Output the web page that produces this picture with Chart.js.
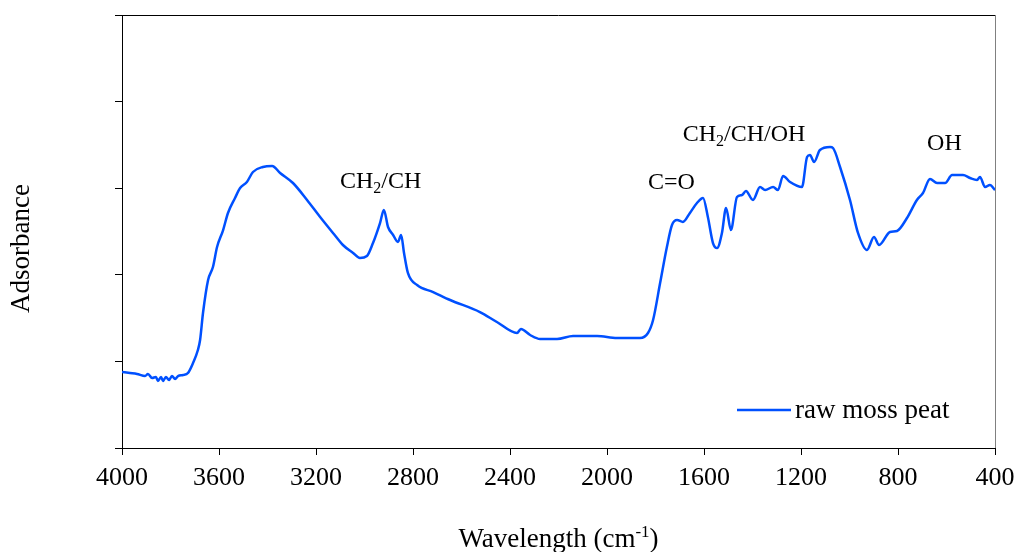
<!DOCTYPE html>
<html>
<head>
<meta charset="utf-8">
<script src="https://cdn.jsdelivr.net/npm/chart.js@4/dist/chart.umd.min.js"></script>
<style>
  html, body { margin: 0; padding: 0; background: #fff; }
  #wrap { width: 1015px; height: 552px; position: relative; }
</style>
</head>
<body>
<div id="wrap"><canvas id="c"></canvas></div>
<script>
// ---- data ----
const wavenumbers = [
  4000, 3967, 3938, 3905, 3893, 3876, 3860, 3852, 3839, 3831, 3819, 3806, 3794, 3781, 3769, 3748, 3728,
  3707, 3687, 3678, 3666, 3645, 3625, 3608, 3583, 3563, 3534, 3513, 3485, 3460, 3419, 3381, 3348,
  3295, 3237, 3183, 3130, 3089, 3047, 3019, 2990, 2965, 2936, 2920, 2903, 2882, 2862, 2849, 2837,
  2821, 2783, 2717, 2647, 2524, 2454, 2371, 2355, 2317, 2276, 2206, 2140, 2041, 1959, 1864, 1831,
  1810, 1781, 1753, 1732, 1711, 1687, 1658, 1629, 1604, 1584, 1563, 1546, 1526, 1509, 1489, 1464,
  1443, 1427, 1398, 1369, 1348, 1315, 1295, 1274, 1245, 1196, 1175, 1163, 1146, 1122, 1080, 1068,
  1039, 998, 965, 928, 899, 878, 833, 804, 763, 722, 697, 668, 639, 606, 577, 532, 503, 474, 462,
  441, 421, 400
];
const absorbance = [
  0.878, 0.866, 0.855, 0.831, 0.855, 0.808, 0.820, 0.774, 0.820, 0.774, 0.820, 0.785, 0.831, 0.797, 0.831, 0.843, 0.866,
  0.982, 1.132, 1.247, 1.559, 1.940, 2.090, 2.321, 2.517, 2.714, 2.887, 3.002, 3.072, 3.187, 3.245, 3.256, 3.176,
  3.060, 2.864, 2.667, 2.483, 2.344, 2.252, 2.194, 2.217, 2.367, 2.598, 2.748, 2.552, 2.460, 2.379, 2.460, 2.252,
  2.021, 1.882, 1.801, 1.709, 1.570, 1.455, 1.328, 1.374, 1.305, 1.259, 1.259, 1.293, 1.293, 1.270, 1.270, 1.328,
  1.478, 1.905, 2.321, 2.575, 2.633, 2.610, 2.714, 2.829, 2.887, 2.667, 2.367, 2.309, 2.483, 2.771, 2.517, 2.898,
  2.921, 2.968, 2.864, 3.014, 2.979, 3.014, 2.979, 3.141, 3.072, 3.014, 3.360, 3.383, 3.303, 3.441, 3.476, 3.464,
  3.245, 2.864, 2.483, 2.286, 2.436, 2.344, 2.494, 2.506, 2.656, 2.864, 2.945, 3.106, 3.060, 3.060, 3.152, 3.152, 3.118, 3.095, 3.129,
  3.014, 3.037, 2.979
];
const xTicks = [4000, 3600, 3200, 2800, 2400, 2000, 1600, 1200, 800, 400];
const seriesName = 'raw moss peat';
const xTitle = 'Wavelength (cm';
const xTitleSup = '-1';
const yTitle = 'Adsorbance';
const bandLabels = [
  { main: 'CH', sub: '2', rest: '/CH' },
  { main: 'C=O', sub: '', rest: '' },
  { main: 'CH', sub: '2', rest: '/CH/OH' },
  { main: 'OH', sub: '', rest: '' }
];

const LINE_COLOR = '#0050ff';
const SERIF = '"Liberation Serif", "DejaVu Serif", serif';

const points = wavenumbers.map((w, i) => ({ x: w, y: absorbance[i] }));

function drawLabel(ctx, lab, x, y, size) {
  ctx.font = size + 'px ' + SERIF;
  ctx.fillText(lab.main, x, y);
  let cx = x + ctx.measureText(lab.main).width;
  if (lab.sub) {
    const s = Math.round(size * 0.65);
    ctx.font = s + 'px ' + SERIF;
    ctx.fillText(lab.sub, cx, y + size * 0.22);
    cx += ctx.measureText(lab.sub).width;
    ctx.font = size + 'px ' + SERIF;
  }
  if (lab.rest) ctx.fillText(lab.rest, cx, y);
}

const decor = {
  id: 'decor',
  afterDraw(chart) {
    const ctx = chart.ctx;
    const a = chart.chartArea;
    const xs = chart.scales.x, ys = chart.scales.y;
    ctx.save();
    // frame top / right
    ctx.lineWidth = 1;
    ctx.strokeStyle = '#000';
    ctx.beginPath();
    ctx.moveTo(a.left, a.top + 0.5);
    ctx.lineTo(a.right, a.top + 0.5);
    ctx.stroke();
    ctx.strokeStyle = '#808080';
    ctx.beginPath();
    ctx.moveTo(a.right + 0.5, a.top);
    ctx.lineTo(a.right + 0.5, a.bottom);
    ctx.stroke();

    ctx.fillStyle = '#000';
    ctx.textBaseline = 'alphabetic';
    ctx.textAlign = 'left';
    // band labels
    const pos = [
      [xs.getPixelForValue(3101), ys.getPixelForValue(3.0)],
      [xs.getPixelForValue(1831), ys.getPixelForValue(2.99)],
      [xs.getPixelForValue(1688), ys.getPixelForValue(3.545)],
      [xs.getPixelForValue(680), ys.getPixelForValue(3.44)]
    ];
    bandLabels.forEach((lab, i) => drawLabel(ctx, lab, pos[i][0], pos[i][1], 24));

    // x title
    ctx.font = '27px ' + SERIF;
    const w1 = ctx.measureText(xTitle).width;
    ctx.font = '17px ' + SERIF;
    const w2 = ctx.measureText(xTitleSup).width;
    ctx.font = '27px ' + SERIF;
    const w3 = ctx.measureText(')').width;
    const tot = w1 + w2 + w3;
    const cx = (a.left + a.right) / 2;
    let tx = cx - tot / 2;
    const by = 547;
    ctx.fillText(xTitle, tx, by);
    tx += w1;
    ctx.font = '17px ' + SERIF;
    ctx.fillText(xTitleSup, tx, by - 10);
    tx += w2;
    ctx.font = '27px ' + SERIF;
    ctx.fillText(')', tx, by);

    // y title
    ctx.save();
    ctx.translate(22, (a.top + a.bottom) / 2 + 17);
    ctx.rotate(-Math.PI / 2);
    ctx.textAlign = 'center';
    ctx.textBaseline = 'middle';
    ctx.font = '27px ' + SERIF;
    ctx.fillText(yTitle, 0, 0);
    ctx.restore();

    // legend
    ctx.strokeStyle = LINE_COLOR;
    ctx.lineWidth = 2.5;
    ctx.beginPath();
    ctx.moveTo(737, 410);
    ctx.lineTo(791, 410);
    ctx.stroke();
    ctx.fillStyle = '#000';
    ctx.font = '27px ' + SERIF;
    ctx.textAlign = 'left';
    ctx.fillText(seriesName, 795, 418);
    ctx.restore();
  }
};

new Chart(document.getElementById('c'), {
  type: 'line',
  data: {
    datasets: [{
      label: seriesName,
      data: points,
      borderColor: LINE_COLOR,
      borderWidth: 2.5,
      pointRadius: 0,
      fill: false,
      cubicInterpolationMode: 'monotone'
    }]
  },
  options: {
    responsive: true,
    maintainAspectRatio: false,
    animation: false,
    layout: { padding: { left: 0, right: 20, top: 15, bottom: 0 } },
    plugins: { legend: { display: false }, tooltip: { enabled: false } },
    scales: {
      x: {
        type: 'linear',
        reverse: true,
        min: 400,
        max: 4000,
        afterBuildTicks(scale) { scale.ticks = xTicks.map(v => ({ value: v })); },
        afterFit(scale) { scale.height = 104; scale.paddingLeft = 0; scale.paddingRight = 0; },
        grid: { drawOnChartArea: false, drawTicks: true, tickLength: 7, color: '#000', tickColor: '#000' },
        border: { color: '#000', width: 1 },
        ticks: {
          color: '#000',
          font: { family: SERIF, size: 26 },
          padding: 8,
          maxRotation: 0,
          autoSkip: false,
          callback: v => String(v)
        }
      },
      y: {
        min: 0,
        max: 5,
        afterFit(scale) { scale.width = 122; },
        grid: { drawOnChartArea: false, drawTicks: true, tickLength: 7, color: '#000', tickColor: '#000' },
        border: { color: '#000', width: 1 },
        ticks: { stepSize: 1, padding: 0, callback: () => '' }
      }
    }
  },
  plugins: [decor]
});
</script>
</body>
</html>
